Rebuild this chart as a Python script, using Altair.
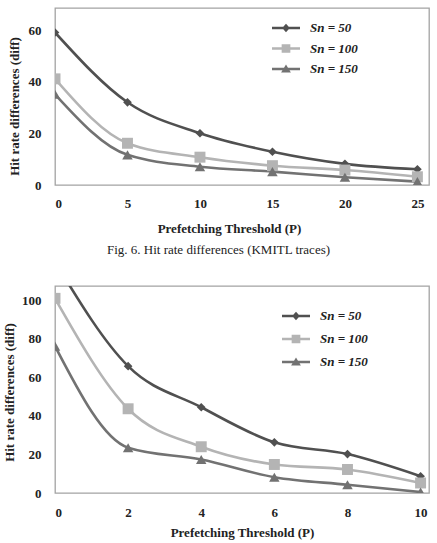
import altair as alt
import pandas as pd

FONT = "Liberation Serif"
SERIES = ["Sn = 50", "Sn = 100", "Sn = 150"]
COLORS = ["#505050", "#b4b4b4", "#727272"]
MARKERS = ["diamond", "square", "triangle-up"]
MARKER_SIZES = [75, 120, 110]

# Panel 1 (Fig. 6, KMITL traces)
P1 = [0, 5, 10, 15, 20, 25]
SN50_1 = [59.2, 32.1, 20.1, 12.9, 8.2, 6.1]
SN100_1 = [41.2, 16.2, 10.8, 7.5, 5.8, 3.2]
SN150_1 = [35.2, 11.7, 7.1, 5.2, 3.0, 1.3]
X1_TICKS = [0, 5, 10, 15, 20, 25]
Y1_TICKS = [0, 20, 40, 60]

# Panel 2
P2 = [0, 2, 4, 6, 8, 10]
SN50_2 = [120, 65.8, 44.5, 26.3, 20.2, 8.7]
SN100_2 = [101, 43.7, 24.0, 14.8, 12.2, 5.2]
SN150_2 = [76.2, 23.5, 17.4, 8.2, 4.3, 0.5]
X2_TICKS = [0, 2, 4, 6, 8, 10]
Y2_TICKS = [0, 20, 40, 60, 80, 100]

CAPTION = "Fig. 6.  Hit rate differences (KMITL traces)"
X_TITLE = "Prefetching Threshold (P)"
Y_TITLE = "Hit rate differences (diff)"

# legend symbols: a line segment with the series marker on it
SEG = "M-2,-0.18H2V0.18H-2Z "
LEGEND_PATHS = [
    SEG + "M0,-0.6L0.55,0L0,0.6L-0.55,0Z",
    SEG + "M-0.62,-0.62H0.62V0.62H-0.62Z",
    SEG + "M0,-0.66L0.7,0.5H-0.7Z",
]


def to_long(P, cols):
    rows = []
    for name, vals in zip(SERIES, cols):
        for p, v in zip(P, vals):
            rows.append({"P": p, "v": v, "s": name})
    return pd.DataFrame(rows)


def panel(df, xdom, xticks, ydom, yticks, w, h, xtitle_pos, ytitle_pos,
          legend_xy, row_pad, xlabel_pad, caption=None):
    base = alt.Chart(df)
    x = alt.X("P:Q", scale=alt.Scale(domain=xdom, nice=False, zero=False),
              axis=alt.Axis(values=xticks, title=X_TITLE, ticks=False, domain=False,
                            grid=False, labelPadding=xlabel_pad, labelFontSize=13,
                            titleX=xtitle_pos[0], titleY=xtitle_pos[1],
                            titleBaseline="middle", titleAnchor="middle"))
    y = alt.Y("v:Q", scale=alt.Scale(domain=ydom, nice=False, zero=False),
              axis=alt.Axis(values=yticks, title=Y_TITLE, ticks=False, domain=False,
                            grid=False, labelPadding=14, labelFontSize=13,
                            titleX=ytitle_pos[0], titleY=ytitle_pos[1],
                            titleBaseline="middle", titleAngle=-90))
    cscale = alt.Scale(domain=SERIES, range=COLORS)
    leg = alt.Legend(title=None, orient="none", legendX=legend_xy[0], legendY=legend_xy[1],
                     symbolSize=196, symbolStrokeWidth=0, labelOffset=17,
                     labelFont=FONT, labelFontSize=13, labelFontWeight="bold",
                     labelFontStyle="italic", labelColor="#222222", rowPadding=row_pad,
                     padding=0, symbolOpacity=1)
    # invisible layer that only carries the legend (line + marker symbols)
    legend_layer = base.mark_point(filled=True, opacity=0, size=1, clip=True).encode(
        x=x, y=y,
        color=alt.Color("s:N", scale=cscale, legend=leg),
        shape=alt.Shape("s:N", scale=alt.Scale(domain=SERIES, range=LEGEND_PATHS), legend=leg),
    )
    lines = base.mark_line(interpolate="monotone", strokeWidth=2.6, clip=True).encode(
        x=x, y=y, color=alt.Color("s:N", scale=cscale))
    layers = [legend_layer, lines]
    for i, name in enumerate(SERIES):
        layers.append(
            base.transform_filter(alt.datum.s == name)
            .mark_point(shape=MARKERS[i], filled=True, opacity=1, size=MARKER_SIZES[i], clip=True)
            .encode(x=x, y=y, color=alt.Color("s:N", scale=cscale))
        )
    props = dict(width=w, height=h)
    if caption:
        props["title"] = alt.TitleParams(caption, orient="bottom", frame="bounds", anchor="middle",
                                         font=FONT, fontSize=13, fontWeight="normal",
                                         color="#222222", offset=9)
    return alt.layer(*layers).properties(**props)


df1 = to_long(P1, [SN50_1, SN100_1, SN150_1])
df2 = to_long(P2, [SN50_2, SN100_2, SN150_2])

c1 = panel(df1, [0, 25.8], X1_TICKS, [0, 68.7], Y1_TICKS, 374, 177,
           (174, 43), (-41, 98), (224, 13), 6.5, 12, caption=CAPTION)
c2 = panel(df2, [0, 10.23], X2_TICKS, [0, 107.4], Y2_TICKS, 374, 207,
           (187, 39), (-46, 106), (234, 23), 9, 13)

chart = (
    alt.vconcat(c1, c2, spacing=27)
    .resolve_scale(color="independent", shape="independent", x="independent", y="independent")
    .resolve_legend(color="independent", shape="independent")
    .properties(padding={"left": 2, "top": 7, "right": 0, "bottom": 0}, background="white")
    .configure_view(stroke="#a3a3a3", strokeWidth=1.3)
    .configure_axis(labelFont=FONT, labelFontWeight="bold", labelColor="#222222",
                    titleFont=FONT, titleFontWeight="bold", titleFontSize=13,
                    titleColor="#222222")
)

chart.save("out.html", embed_options={"renderer": "svg", "actions": False})
